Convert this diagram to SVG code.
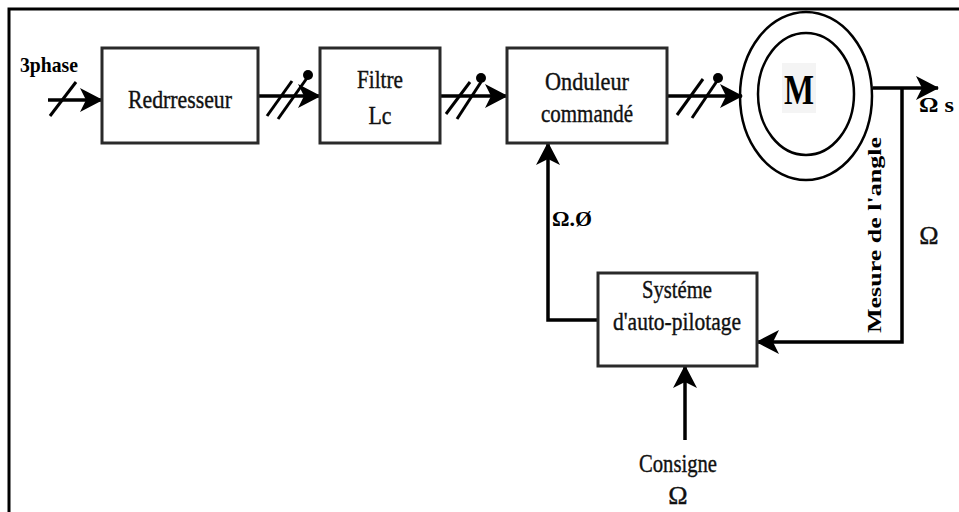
<svg xmlns="http://www.w3.org/2000/svg" width="959" height="512" viewBox="0 0 959 512">
<style>
.box{fill:#fff;stroke:#2a2a2a;stroke-width:3}
.ln{fill:none;stroke:#000;stroke-width:3.5}
.sl{fill:none;stroke:#000;stroke-width:3}
.t{font-family:"Liberation Serif","Times New Roman",serif;font-size:26px;fill:#111;text-anchor:middle;stroke:#111;stroke-width:0.4}
.b{font-family:"Liberation Serif","Times New Roman",serif;font-weight:bold;fill:#000}
.el{fill:none;stroke:#000;stroke-width:2.5}
</style>
<defs>
<marker id="arr" markerUnits="userSpaceOnUse" markerWidth="24" markerHeight="26" refX="22" refY="12" orient="auto" viewBox="0 0 24 26">
<path d="M0,0 L23,12 L0,24 L6,12 Z" fill="#000"/>
</marker>
</defs>
<g id="frame">
<path d="M9,512 L9,9 L959,9" fill="none" stroke="#000" stroke-width="3"/>
</g>
<g id="connectors">
<line class="ln" x1="48" y1="100" x2="102" y2="100" marker-end="url(#arr)"/>
<line class="sl" x1="50" y1="116" x2="76" y2="82"/>
<line class="ln" x1="258" y1="96" x2="320" y2="96" marker-end="url(#arr)"/>
<line class="sl" x1="267" y1="116" x2="292" y2="81"/>
<line class="sl" x1="278" y1="119" x2="307" y2="78"/>
<circle cx="308" cy="75" r="5"/>
<line class="ln" x1="440" y1="96" x2="507" y2="96" marker-end="url(#arr)"/>
<line class="sl" x1="446" y1="114" x2="470" y2="82"/>
<line class="sl" x1="457" y1="119" x2="481" y2="82"/>
<circle cx="481" cy="78" r="5"/>
<line class="ln" x1="667" y1="96" x2="742" y2="96" marker-end="url(#arr)"/>
<line class="sl" x1="677" y1="115" x2="703" y2="79"/>
<line class="sl" x1="692" y1="118" x2="717" y2="81"/>
<circle cx="718" cy="78" r="5"/>
<line class="ln" x1="873" y1="88" x2="938" y2="88" marker-end="url(#arr)"/>
<polyline class="ln" points="902,88 902,342 757,342" marker-end="url(#arr)"/>
<polyline class="ln" points="598,320 548,320 548,143" marker-end="url(#arr)"/>
<line class="ln" x1="685" y1="440" x2="685" y2="366" marker-end="url(#arr)"/>
</g>
<g id="redresseur">
<rect class="box" x="102" y="48" width="156" height="95"/>
<text class="t" x="180" y="108" textLength="104" lengthAdjust="spacingAndGlyphs">Redrresseur</text>
</g>
<g id="filtre">
<rect class="box" x="320" y="48" width="120" height="95"/>
<text class="t" x="380" y="88" textLength="46" lengthAdjust="spacingAndGlyphs">Filtre</text>
<text class="t" x="380" y="124" textLength="23" lengthAdjust="spacingAndGlyphs">Lc</text>
</g>
<g id="onduleur">
<rect class="box" x="507" y="48" width="160" height="95"/>
<text class="t" x="587" y="90" textLength="84" lengthAdjust="spacingAndGlyphs">Onduleur</text>
<text class="t" x="587" y="122" textLength="92" lengthAdjust="spacingAndGlyphs">commandé</text>
</g>
<g id="moteur">
<ellipse class="el" cx="806" cy="96" rx="66" ry="84"/>
<ellipse class="el" cx="806" cy="94" rx="48" ry="61"/>
<rect x="782" y="63" width="34" height="50" fill="#f4f4f4"/>
<text class="b" x="799" y="104" font-size="42" text-anchor="middle" textLength="30" lengthAdjust="spacingAndGlyphs">M</text>
</g>
<g id="autopilotage">
<rect class="box" x="598" y="273" width="159" height="93"/>
<text class="t" x="677" y="298" textLength="70" lengthAdjust="spacingAndGlyphs">Systéme</text>
<text class="t" x="677" y="330" textLength="128" lengthAdjust="spacingAndGlyphs">d'auto-pilotage</text>
</g>
<g id="labels">
<text class="b" x="20" y="72" font-size="21" textLength="58" lengthAdjust="spacingAndGlyphs">3phase</text>
<text class="b" x="552" y="226" font-size="22" textLength="40" lengthAdjust="spacingAndGlyphs">Ω.Ø</text>
<text class="b" x="919" y="112" font-size="20" textLength="35" lengthAdjust="spacingAndGlyphs">Ω s</text>
<text class="b" x="0" y="0" font-size="19" text-anchor="middle" transform="translate(881,235) rotate(-90)" textLength="196" lengthAdjust="spacingAndGlyphs">Mesure de l'angle</text>
<text class="t" x="929" y="244" font-size="20" text-anchor="middle">Ω</text>
<text class="t" x="678" y="472" textLength="78" lengthAdjust="spacingAndGlyphs">Consigne</text>
<text class="t" x="678" y="504" font-size="22">Ω</text>
</g>
</svg>
